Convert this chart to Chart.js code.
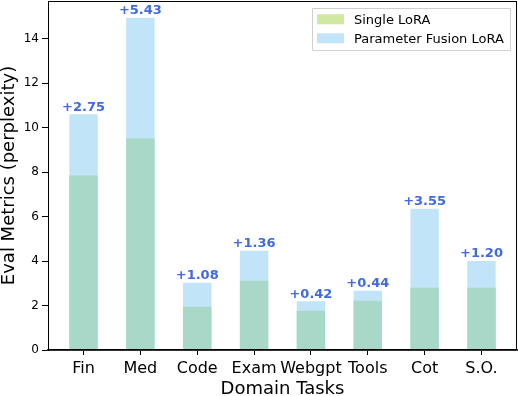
<!DOCTYPE html>
<html><head><meta charset="utf-8">
<script src="https://cdn.jsdelivr.net/npm/chart.js@4/dist/chart.umd.min.js"></script>
<style>html,body{margin:0;padding:0;background:#fff}#wrap{width:518px;height:396px}</style>
</head><body><div id="wrap"><canvas id="c" width="518" height="396"></canvas></div>
<script>
const categories = ["Fin","Med","Code","Exam","Webgpt","Tools","Cot","S.O."];
const singleLoRA = [7.85, 9.52, 1.95, 3.11, 1.77, 2.22, 2.80, 2.80];
const fusionLoRA = [10.60, 14.95, 3.03, 4.47, 2.19, 2.66, 6.35, 4.00];
const diffLabels = ["+2.75","+5.43","+1.08","+1.36","+0.42","+0.44","+3.55","+1.20"];
const yTicks = [0,2,4,6,8,10,12,14];

const FONT = "'DejaVu Sans', sans-serif";
const legendColors = ["#d0e8a0", "#c2e4f8"];

const spinePlugin = {
  id: 'spines',
  afterDraw(chart) {
    const {ctx, chartArea: a} = chart;
    ctx.save();
    ctx.strokeStyle = '#000';
    ctx.lineWidth = 1;
    ctx.strokeRect(a.left + 0.5, a.top + 0.5, a.right - a.left - 1, a.bottom - a.top - 1);
    ctx.restore();
  }
};

const annotPlugin = {
  id: 'annot',
  afterDatasetsDraw(chart) {
    const {ctx} = chart;
    const xs = chart.scales.x, ys = chart.scales.y;
    ctx.save();
    ctx.font = "bold 13px " + FONT;
    ctx.fillStyle = '#4169e1';
    ctx.textAlign = 'center';
    ctx.textBaseline = 'bottom';
    categories.forEach((c, i) => {
      ctx.fillText(diffLabels[i], xs.getPixelForValue(i), ys.getPixelForValue(fusionLoRA[i]) - 0.5);
    });
    ctx.restore();
  }
};

const legendPlugin = {
  id: 'customLegend',
  afterDraw(chart) {
    const {ctx} = chart;
    const x0 = 312, y0 = 8, w = 198, h = 42;
    ctx.save();
    ctx.fillStyle = 'rgba(255,255,255,0.8)';
    ctx.strokeStyle = '#d0d0d0';
    ctx.lineWidth = 1;
    ctx.beginPath();
    ctx.rect(x0 + 0.5, y0 + 0.5, w, h);
    ctx.fill(); ctx.stroke();
    ctx.font = "13px " + FONT;
    ctx.textBaseline = 'middle';
    ctx.textAlign = 'left';
    chart.data.datasets.forEach((ds, i) => {
      const cy = y0 + 11.3 + i * 19;
      ctx.fillStyle = legendColors[i];
      ctx.fillRect(x0 + 5, cy - 5, 27, 10);
      ctx.fillStyle = '#000';
      ctx.fillText(ds.label, x0 + 42, cy + 1);
    });
    ctx.restore();
  }
};

new Chart(document.getElementById('c'), {
  type: 'bar',
  data: {
    datasets: [
      { label: 'Single LoRA', data: singleLoRA.map((v, i) => ({x: i, y: v})),
        backgroundColor: '#a8d8c8', grouped: false, barPercentage: 0.5, categoryPercentage: 1 },
      { label: 'Parameter Fusion LoRA', data: fusionLoRA.map((v, i) => ({x: i, y: v})),
        backgroundColor: '#c2e4f8', grouped: false, barPercentage: 0.5, categoryPercentage: 1 }
    ]
  },
  options: {
    responsive: false,
    animation: false,
    layout: { padding: { top: 1, right: 1, left: 0, bottom: 0 } },
    plugins: { legend: { display: false }, tooltip: { enabled: false } },
    scales: {
      x: {
        type: 'linear', min: -0.625, max: 7.625, offset: false,
        afterBuildTicks(s) { s.ticks = categories.map((c, i) => ({value: i})); },
        afterFit(s) { s.height = 46; s.paddingLeft = 0; s.paddingRight = 0; },
        grid: { offset: false, drawOnChartArea: false, drawTicks: true, tickLength: 5, color: '#000', tickWidth: 1 },
        border: { display: true, color: '#333', width: 2 },
        ticks: { callback: (v) => categories[v], color: '#000', font: { family: FONT, size: 16 }, padding: 4, maxRotation: 0, autoSkip: false },
        title: { display: true, text: 'Domain Tasks', color: '#000', font: { family: FONT, size: 18 }, padding: { top: 0, bottom: -4 } }
      },
      y: {
        min: 0, max: 15.7,
        afterBuildTicks(s) { s.ticks = yTicks.map(v => ({value: v})); },
        afterFit(s) { s.width = 48; s.paddingTop = 0; s.paddingBottom = 0; },
        grid: { offset: false, drawOnChartArea: false, drawTicks: true, tickLength: 6, color: '#000', tickWidth: 1 },
        border: { display: true, color: '#000', width: 1 },
        ticks: { color: '#000', font: { family: FONT, size: 12 }, padding: 3 },
        title: { display: true, text: 'Eval Metrics (perplexity)', color: '#000', font: { family: FONT, size: 18 }, padding: { top: -1.5, bottom: 0 } }
      }
    }
  },
  plugins: [spinePlugin, annotPlugin, legendPlugin]
});
</script>
</body></html>
